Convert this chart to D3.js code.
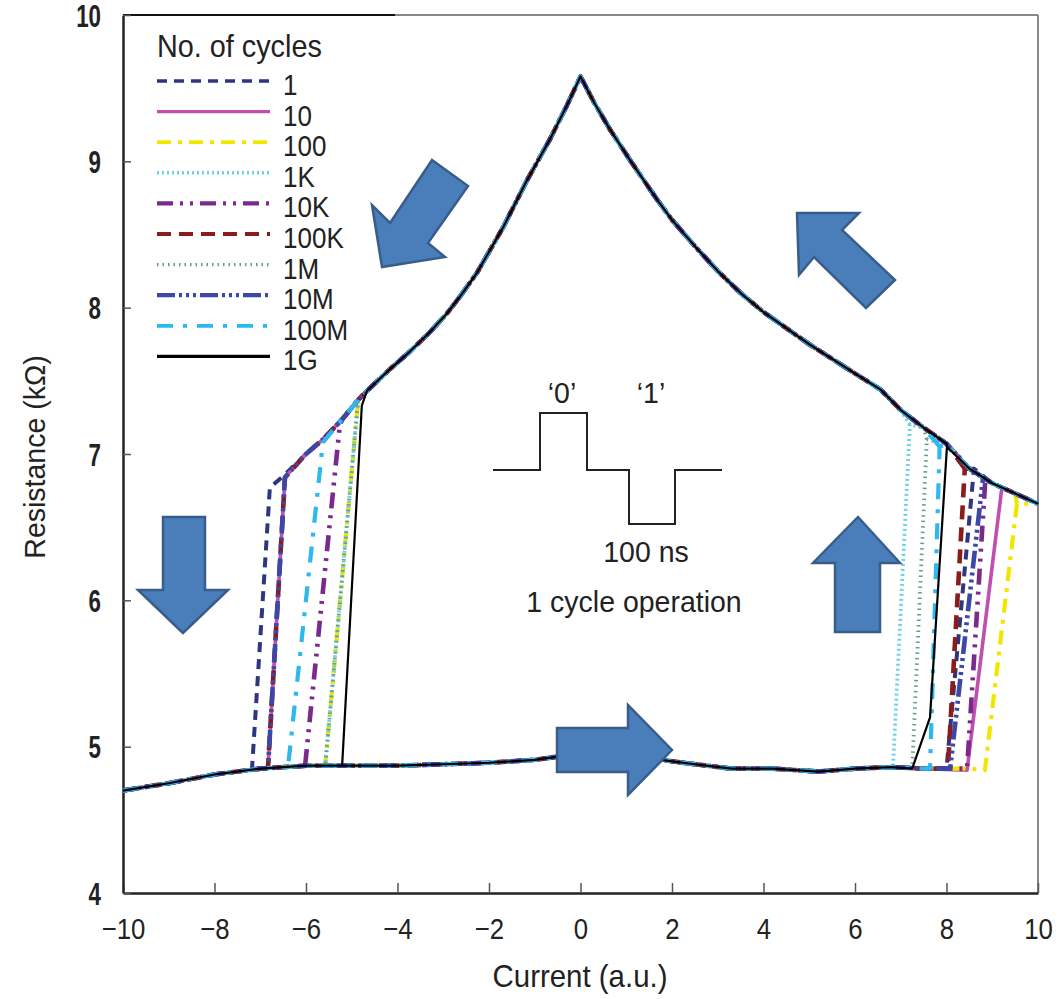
<!DOCTYPE html>
<html>
<head>
<meta charset="utf-8">
<script src="https://cdn.jsdelivr.net/npm/d3@7"></script>
<style>
  body { margin: 0; background: #fff; }
  svg { display: block; }
  text { font-family: "Liberation Sans", Arial, sans-serif; fill: #222; }
</style>
</head>
<body>
<script>
// No. of cycles (legend order)
const cycles = ['1', '10', '100', '1K', '10K', '100K', '1M', '10M', '100M', '1G']

// shared high-resistance branch [current, kOhm]
const upperBranch = [
  [-6.8, 6.78], [-6.46, 6.86], [-6.0, 7.0], [-5.63, 7.1], [-5.2, 7.24], [-4.86, 7.37],
  [-4.67, 7.43], [-4.2, 7.57], [-3.73, 7.7], [-3.3, 7.83], [-2.92, 7.96], [-2.6, 8.09],
  [-2.26, 8.24], [-1.69, 8.55], [-1.17, 8.87], [-0.67, 9.15], [-0.3, 9.38], [0, 9.58],
  [0.3, 9.4], [0.64, 9.22], [1.1, 9.0], [1.67, 8.74], [2, 8.6], [2.5, 8.42], [3, 8.25],
  [3.5, 8.1], [4, 7.97], [5, 7.75], [6, 7.55], [6.56, 7.44], [7, 7.3], [7.5, 7.18],
  [8, 7.07], [8.5, 6.9], [9, 6.8], [9.5, 6.73], [10, 6.66]
]

// shared low-resistance branch
const lowerBranch = [
  [-10, 4.7], [-9, 4.75], [-8, 4.81], [-7, 4.85], [-6, 4.87], [-5, 4.87], [-4, 4.87],
  [-3, 4.88], [-2, 4.89], [-1, 4.91], [-0.3, 4.94], [0, 4.95], [0.5, 4.93], [1.5, 4.92],
  [2.5, 4.88], [3.3, 4.85], [4.2, 4.85], [5.2, 4.83], [6, 4.85], [6.8, 4.86], [7.5, 4.85],
  [8.5, 4.85], [9, 4.84]
]

// switching points per series
const leftTop = [[-6.79, 6.77], [-6.46, 6.84], [-4.86, 7.37], [-4.86, 7.37], [-5.26, 7.2],
  [-6.46, 6.84], [-4.86, 7.37], [-6.46, 6.84], [-5.63, 7.08], [-4.78, 7.33]]
const leftBottom = [[-7.18, 4.85], [-6.83, 4.86], [-5.58, 4.87], [-5.58, 4.87], [-6.02, 4.87],
  [-6.83, 4.86], [-5.58, 4.87], [-6.83, 4.86], [-6.39, 4.87], [-5.21, 4.87]]
const rightBottom = [[8.0, 4.85], [8.45, 4.84], [8.84, 4.84], [6.83, 4.86], [8.45, 4.85],
  [8.03, 4.85], [7.25, 4.85], [8.08, 4.85], [7.64, 4.85], [7.25, 4.85]]
const rightKink = [null, null, null, null, null, null, null, null, null, [7.64, 5.2]]
const rightTop = [[8.6, 6.9], [9.21, 6.77], [9.54, 6.66], [7.2, 7.2], [8.85, 6.83],
  [8.4, 6.9], [7.57, 7.1], [8.8, 6.84], [7.85, 7.05], [8.01, 7.05]]

const colors = ['#2f3580', '#c24fb0', '#f2e600', '#6fd0e6', '#7b2a8c',
  '#8b1c1c', '#5f9e94', '#3b48a8', '#2eb8ef', '#000000']
const dashes = ['10,7', null, '14,7,4,7', '2,3', '16,7,3,7,3,7', '14,8', '1.5,4',
  '18,4,3,4,3,4,3,4', '16,10,4,10', null]
const widths = [2.4, 2, 2.6, 2.2, 3, 3, 2.2, 3, 2.6, 2.2]

const xTicks = [-10, -8, -6, -4, -2, 0, 2, 4, 6, 8, 10]
const yTicks = [4, 5, 6, 7, 8, 9, 10]

const svg = d3.select('body').append('svg')
  .attr('width', 1059)
  .attr('height', 999)

const x = d3.scaleLinear().domain([-10, 10]).range([123, 1038])
const y = d3.scaleLinear().domain([4, 10]).range([893, 15])

// frame (top and right)
svg.append('line').attr('x1', 123).attr('x2', 1038).attr('y1', 15).attr('y2', 15)
  .attr('stroke', '#888').attr('stroke-width', 2)
svg.append('line').attr('x1', 123).attr('x2', 395).attr('y1', 15).attr('y2', 15)
  .attr('stroke', '#111').attr('stroke-width', 2)
svg.append('line').attr('x1', 1038).attr('x2', 1038).attr('y1', 15).attr('y2', 893)
  .attr('stroke', '#888').attr('stroke-width', 2)

// axes
const xAxis = svg.append('g')
  .attr('transform', 'translate(0,893)')
  .call(d3.axisBottom(x).tickValues(xTicks).tickSizeInner(-10).tickSizeOuter(0))
const yAxis = svg.append('g')
  .attr('transform', 'translate(123,0)')
  .call(d3.axisLeft(y).tickValues(yTicks).tickFormat(d3.format('d')).tickSizeInner(-8).tickSizeOuter(0))

xAxis.select('.domain').attr('stroke', '#222').attr('stroke-width', 2.5)
yAxis.select('.domain').attr('stroke', '#222').attr('stroke-width', 2.5)
xAxis.selectAll('.tick line').attr('stroke', '#555').attr('stroke-width', 1.5)
yAxis.selectAll('.tick line').attr('stroke', '#555').attr('stroke-width', 1.5)
xAxis.selectAll('.tick text')
  .attr('x', 0).attr('y', 0).attr('dy', 0)
  .attr('transform', 'translate(0,46) scale(0.86,1)')
  .attr('font-size', 30).attr('fill', '#222')
  .attr('font-family', '"Liberation Sans", Arial, sans-serif')
yAxis.selectAll('.tick text')
  .attr('x', 0).attr('y', 0).attr('dy', 0)
  .attr('transform', 'translate(-22,11) scale(0.72,1)')
  .attr('font-size', 31).attr('font-weight', 'bold').attr('fill', '#333')
  .attr('font-family', '"Liberation Sans", Arial, sans-serif')

// axis titles
svg.append('text')
  .attr('transform', 'translate(580,987) scale(0.92,1)')
  .attr('text-anchor', 'middle')
  .attr('font-size', 32)
  .text('Current (a.u.)')
svg.append('text')
  .attr('transform', 'translate(45,457) rotate(-90) scale(0.95,1)')
  .attr('text-anchor', 'middle')
  .attr('font-size', 30)
  .text('Resistance (kΩ)')

// curves
const line = d3.line().x(d => x(d[0])).y(d => y(d[1]))
const curves = svg.append('g')

cycles.forEach((name, i) => {
  const lb = leftBottom[i], lt = leftTop[i], rb = rightBottom[i], rt = rightTop[i]
  // low branch sweep up to the right switch, then along the high branch to +10
  const path1 = lowerBranch.filter(p => p[0] < rb[0])
    .concat([rb])
    .concat(rightKink[i] ? [rightKink[i]] : [])
    .concat([rt])
    .concat(upperBranch.filter(p => p[0] > rt[0]))
  // high branch from the right switch back to the left switch, then down
  const path2 = [rt]
    .concat(upperBranch.filter(p => p[0] > lt[0] && p[0] < rt[0]).reverse())
    .concat([lt, lb])

  ;[path1, path2].forEach(pts => {
    curves.append('path')
      .attr('d', line(pts))
      .attr('fill', 'none')
      .attr('stroke', colors[i])
      .attr('stroke-width', widths[i] + (name === '1G' ? 0 : 1.6))
      .attr('stroke-dasharray', dashes[i])
      .attr('stroke-linejoin', 'round')
  })
})

// legend
const legend = svg.append('g')
legend.append('text')
  .attr('transform', 'translate(157,57) scale(0.9,1)')
  .attr('font-size', 32)
  .text('No. of cycles')
cycles.forEach((name, i) => {
  const ry = 81 + i * 30.6
  legend.append('line')
    .attr('x1', 157).attr('x2', 270).attr('y1', ry).attr('y2', ry)
    .attr('stroke', colors[i])
    .attr('stroke-width', widths[i] + 1.2)
    .attr('stroke-dasharray', dashes[i])
  legend.append('text')
    .attr('transform', `translate(283,${ry + 14}) scale(1,1.1)`)
    .attr('font-size', 26)
    .text(name)
})

// block arrows
const arrows = [
  [[382, 267], [372, 205], [390, 223], [432, 160], [468, 186], [428, 243], [445, 257]],
  [[797, 213], [859, 213], [842, 230], [895, 280], [866, 308], [814, 257], [799, 275]],
  [[183, 633], [138, 590], [163, 590], [163, 517], [205, 517], [205, 590], [228, 590]],
  [[858, 517], [900, 563], [880, 563], [880, 632], [835, 632], [835, 563], [813, 563]],
  [[672, 750], [628, 795], [628, 772], [557, 772], [557, 728], [628, 728], [628, 705]]
]
svg.append('g').selectAll('polygon')
  .data(arrows)
  .enter().append('polygon')
  .attr('points', d => d.map(p => p.join(',')).join(' '))
  .attr('fill', '#4a7ebb')
  .attr('stroke', '#385d8a')
  .attr('stroke-width', 2.5)

// pulse inset
const pulse = [[493, 470], [540, 470], [540, 413], [587, 413], [587, 470], [629, 470],
  [629, 524], [675, 524], [675, 470], [722, 470]]
svg.append('path')
  .attr('d', d3.line()(pulse))
  .attr('fill', 'none')
  .attr('stroke', '#222')
  .attr('stroke-width', 2)
const inset = [['‘0’', 562, 403], ['‘1’', 651, 403], ['100 ns', 646, 562], ['1 cycle operation', 634, 612]]
inset.forEach(t => {
  svg.append('text')
    .attr('transform', `translate(${t[1]},${t[2]}) scale(0.95,1)`)
    .attr('text-anchor', 'middle')
    .attr('font-size', 30)
    .text(t[0])
})
</script>
</body>
</html>
